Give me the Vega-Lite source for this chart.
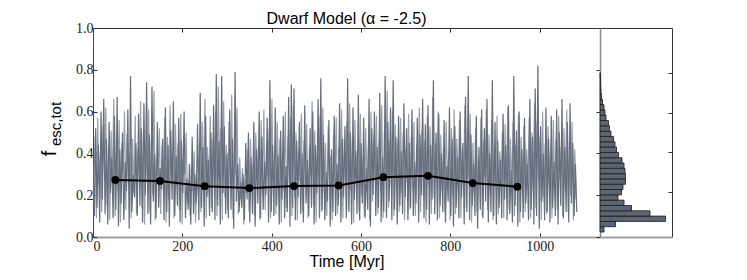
{
  "$schema": "https://vega.github.io/schema/vega-lite/v6.json",
  "padding": {"left": 38, "top": 10, "right": 5, "bottom": 5},
  "background": "white",
  "bounds": "flush",
  "spacing": 0,
  "config": {
    "view": {"stroke": "#333333", "strokeWidth": 1},
    "axis": {"grid": false, "labelFont": "Liberation Serif", "labelFontSize": 14, "labelColor": "#222222", "tickColor": "#333333", "titleFont": "Liberation Sans", "titleFontWeight": "normal", "titleColor": "#000000"},
    "title": {"font": "Liberation Sans", "fontSize": 16, "fontWeight": "normal", "color": "#000000"}
  },
  "datasets": {
    "series": [
      {"t":0,"f":0.35},{"t":3,"f":0.10},{"t":6,"f":0.52},{"t":9,"f":0.14},{"t":12,"f":0.44},{"t":15,"f":0.07},{"t":18,"f":0.60},{"t":21,"f":0.18},{"t":24,"f":0.66},{"t":27,"f":0.11},
      {"t":30,"f":0.47},{"t":33,"f":0.06},{"t":36,"f":0.55},{"t":39,"f":0.21},{"t":42,"f":0.38},{"t":45,"f":0.09},{"t":48,"f":0.58},{"t":51,"f":0.13},{"t":54,"f":0.67},{"t":57,"f":0.05},
      {"t":60,"f":0.42},{"t":63,"f":0.16},{"t":66,"f":0.50},{"t":69,"f":0.08},{"t":72,"f":0.36},{"t":75,"f":0.22},{"t":78,"f":0.61},{"t":81,"f":0.04},{"t":84,"f":0.77},{"t":87,"f":0.12},
      {"t":90,"f":0.30},{"t":93,"f":0.19},{"t":96,"f":0.45},{"t":99,"f":0.10},{"t":102,"f":0.59},{"t":105,"f":0.15},{"t":108,"f":0.52},{"t":111,"f":0.07},{"t":114,"f":0.64},{"t":117,"f":0.20},
      {"t":120,"f":0.74},{"t":123,"f":0.11},{"t":126,"f":0.49},{"t":129,"f":0.06},{"t":132,"f":0.72},{"t":135,"f":0.17},{"t":138,"f":0.40},{"t":141,"f":0.09},{"t":144,"f":0.55},{"t":147,"f":0.14},
      {"t":150,"f":0.33},{"t":153,"f":0.23},{"t":156,"f":0.47},{"t":159,"f":0.08},{"t":162,"f":0.62},{"t":165,"f":0.12},{"t":168,"f":0.44},{"t":171,"f":0.05},{"t":174,"f":0.51},{"t":177,"f":0.18},
      {"t":180,"f":0.65},{"t":183,"f":0.10},{"t":186,"f":0.39},{"t":189,"f":0.15},{"t":192,"f":0.57},{"t":195,"f":0.07},{"t":198,"f":0.46},{"t":201,"f":0.21},{"t":204,"f":0.60},{"t":207,"f":0.09},
      {"t":210,"f":0.28},{"t":213,"f":0.13},{"t":216,"f":0.35},{"t":219,"f":0.06},{"t":222,"f":0.48},{"t":225,"f":0.11},{"t":228,"f":0.30},{"t":231,"f":0.16},{"t":234,"f":0.54},{"t":237,"f":0.08},
      {"t":240,"f":0.69},{"t":243,"f":0.14},{"t":246,"f":0.43},{"t":249,"f":0.05},{"t":252,"f":0.58},{"t":255,"f":0.19},{"t":258,"f":0.37},{"t":261,"f":0.10},{"t":264,"f":0.50},{"t":267,"f":0.12},
      {"t":270,"f":0.63},{"t":273,"f":0.08},{"t":276,"f":0.78},{"t":279,"f":0.15},{"t":282,"f":0.46},{"t":285,"f":0.06},{"t":288,"f":0.77},{"t":291,"f":0.21},{"t":294,"f":0.53},{"t":297,"f":0.11},
      {"t":300,"f":0.40},{"t":303,"f":0.09},{"t":306,"f":0.61},{"t":309,"f":0.13},{"t":312,"f":0.47},{"t":315,"f":0.04},{"t":318,"f":0.79},{"t":321,"f":0.17},{"t":324,"f":0.35},{"t":327,"f":0.12},
      {"t":330,"f":0.26},{"t":333,"f":0.14},{"t":336,"f":0.30},{"t":339,"f":0.08},{"t":342,"f":0.45},{"t":345,"f":0.18},{"t":348,"f":0.50},{"t":351,"f":0.07},{"t":354,"f":0.38},{"t":357,"f":0.11},
      {"t":360,"f":0.55},{"t":363,"f":0.05},{"t":366,"f":0.42},{"t":369,"f":0.16},{"t":372,"f":0.60},{"t":375,"f":0.09},{"t":378,"f":0.48},{"t":381,"f":0.13},{"t":384,"f":0.36},{"t":387,"f":0.20},
      {"t":390,"f":0.57},{"t":393,"f":0.07},{"t":396,"f":0.75},{"t":399,"f":0.12},{"t":402,"f":0.44},{"t":405,"f":0.10},{"t":408,"f":0.62},{"t":411,"f":0.15},{"t":414,"f":0.39},{"t":417,"f":0.06},
      {"t":420,"f":0.51},{"t":423,"f":0.18},{"t":426,"f":0.58},{"t":429,"f":0.09},{"t":432,"f":0.34},{"t":435,"f":0.12},{"t":438,"f":0.67},{"t":441,"f":0.05},{"t":444,"f":0.73},{"t":447,"f":0.14},
      {"t":450,"f":0.71},{"t":453,"f":0.08},{"t":456,"f":0.46},{"t":459,"f":0.19},{"t":462,"f":0.55},{"t":465,"f":0.11},{"t":468,"f":0.40},{"t":471,"f":0.07},{"t":474,"f":0.63},{"t":477,"f":0.16},
      {"t":480,"f":0.37},{"t":483,"f":0.10},{"t":486,"f":0.52},{"t":489,"f":0.14},{"t":492,"f":0.60},{"t":495,"f":0.06},{"t":498,"f":0.44},{"t":501,"f":0.21},{"t":504,"f":0.66},{"t":507,"f":0.09},
      {"t":510,"f":0.76},{"t":513,"f":0.13},{"t":516,"f":0.49},{"t":519,"f":0.08},{"t":522,"f":0.31},{"t":525,"f":0.17},{"t":528,"f":0.56},{"t":531,"f":0.05},{"t":534,"f":0.42},{"t":537,"f":0.12},
      {"t":540,"f":0.58},{"t":543,"f":0.10},{"t":546,"f":0.35},{"t":549,"f":0.15},{"t":552,"f":0.64},{"t":555,"f":0.07},{"t":558,"f":0.47},{"t":561,"f":0.19},{"t":564,"f":0.53},{"t":567,"f":0.09},
      {"t":570,"f":0.76},{"t":573,"f":0.12},{"t":576,"f":0.50},{"t":579,"f":0.06},{"t":582,"f":0.62},{"t":585,"f":0.18},{"t":588,"f":0.41},{"t":591,"f":0.11},{"t":594,"f":0.68},{"t":597,"f":0.08},
      {"t":600,"f":0.45},{"t":603,"f":0.16},{"t":606,"f":0.57},{"t":609,"f":0.09},{"t":612,"f":0.33},{"t":615,"f":0.13},{"t":618,"f":0.66},{"t":621,"f":0.05},{"t":624,"f":0.52},{"t":627,"f":0.20},
      {"t":630,"f":0.60},{"t":633,"f":0.10},{"t":636,"f":0.43},{"t":639,"f":0.14},{"t":642,"f":0.69},{"t":645,"f":0.07},{"t":648,"f":0.38},{"t":651,"f":0.12},{"t":654,"f":0.77},{"t":657,"f":0.09},
      {"t":660,"f":0.55},{"t":663,"f":0.17},{"t":666,"f":0.62},{"t":669,"f":0.08},{"t":672,"f":0.75},{"t":675,"f":0.13},{"t":678,"f":0.48},{"t":681,"f":0.06},{"t":684,"f":0.58},{"t":687,"f":0.15},
      {"t":690,"f":0.41},{"t":693,"f":0.11},{"t":696,"f":0.64},{"t":699,"f":0.19},{"t":702,"f":0.52},{"t":705,"f":0.08},{"t":708,"f":0.45},{"t":711,"f":0.14},{"t":714,"f":0.61},{"t":717,"f":0.10},
      {"t":720,"f":0.36},{"t":723,"f":0.16},{"t":726,"f":0.57},{"t":729,"f":0.07},{"t":732,"f":0.49},{"t":735,"f":0.20},{"t":738,"f":0.66},{"t":741,"f":0.09},{"t":744,"f":0.54},{"t":747,"f":0.13},
      {"t":750,"f":0.63},{"t":753,"f":0.06},{"t":756,"f":0.44},{"t":759,"f":0.18},{"t":762,"f":0.75},{"t":765,"f":0.11},{"t":768,"f":0.50},{"t":771,"f":0.08},{"t":774,"f":0.59},{"t":777,"f":0.15},
      {"t":780,"f":0.40},{"t":783,"f":0.12},{"t":786,"f":0.56},{"t":789,"f":0.07},{"t":792,"f":0.34},{"t":795,"f":0.17},{"t":798,"f":0.62},{"t":801,"f":0.10},{"t":804,"f":0.47},{"t":807,"f":0.05},
      {"t":810,"f":0.53},{"t":813,"f":0.14},{"t":816,"f":0.38},{"t":819,"f":0.09},{"t":822,"f":0.60},{"t":825,"f":0.19},{"t":828,"f":0.45},{"t":831,"f":0.06},{"t":834,"f":0.67},{"t":837,"f":0.12},
      {"t":840,"f":0.77},{"t":843,"f":0.08},{"t":846,"f":0.49},{"t":849,"f":0.15},{"t":852,"f":0.35},{"t":855,"f":0.10},{"t":858,"f":0.58},{"t":861,"f":0.04},{"t":864,"f":0.43},{"t":867,"f":0.13},
      {"t":870,"f":0.61},{"t":873,"f":0.09},{"t":876,"f":0.52},{"t":879,"f":0.17},{"t":882,"f":0.66},{"t":885,"f":0.07},{"t":888,"f":0.40},{"t":891,"f":0.12},{"t":894,"f":0.75},{"t":897,"f":0.10},
      {"t":900,"f":0.55},{"t":903,"f":0.06},{"t":906,"f":0.46},{"t":909,"f":0.14},{"t":912,"f":0.37},{"t":915,"f":0.09},{"t":918,"f":0.59},{"t":921,"f":0.18},{"t":924,"f":0.44},{"t":927,"f":0.08},
      {"t":930,"f":0.63},{"t":933,"f":0.11},{"t":936,"f":0.32},{"t":939,"f":0.07},{"t":942,"f":0.77},{"t":945,"f":0.15},{"t":948,"f":0.51},{"t":951,"f":0.05},{"t":954,"f":0.60},{"t":957,"f":0.12},
      {"t":960,"f":0.42},{"t":963,"f":0.09},{"t":966,"f":0.57},{"t":969,"f":0.16},{"t":972,"f":0.35},{"t":975,"f":0.08},{"t":978,"f":0.66},{"t":981,"f":0.13},{"t":984,"f":0.48},{"t":987,"f":0.06},
      {"t":990,"f":0.71},{"t":993,"f":0.10},{"t":996,"f":0.82},{"t":999,"f":0.04},{"t":1002,"f":0.53},{"t":1005,"f":0.17},{"t":1008,"f":0.40},{"t":1011,"f":0.08},{"t":1014,"f":0.62},{"t":1017,"f":0.12},
      {"t":1020,"f":0.47},{"t":1023,"f":0.07},{"t":1026,"f":0.58},{"t":1029,"f":0.14},{"t":1032,"f":0.36},{"t":1035,"f":0.10},{"t":1038,"f":0.61},{"t":1041,"f":0.06},{"t":1044,"f":0.50},{"t":1047,"f":0.15},
      {"t":1050,"f":0.66},{"t":1053,"f":0.09},{"t":1056,"f":0.43},{"t":1059,"f":0.12},{"t":1062,"f":0.55},{"t":1065,"f":0.07},{"t":1068,"f":0.64},{"t":1071,"f":0.16},{"t":1074,"f":0.45},{"t":1077,"f":0.10},
      {"t":1080,"f":0.35},{"t":1083,"f":0.12}
    ],
    "series2": [
      {"t":1.5,"f":0.20},{"t":4.5,"f":0.48},{"t":7.5,"f":0.09},{"t":10.5,"f":0.57},{"t":13.5,"f":0.25},{"t":16.5,"f":0.41},{"t":19.5,"f":0.12},{"t":22.5,"f":0.53},{"t":25.5,"f":0.30},{"t":28.5,"f":0.62},
      {"t":31.5,"f":0.15},{"t":34.5,"f":0.44},{"t":37.5,"f":0.08},{"t":40.5,"f":0.51},{"t":43.5,"f":0.27},{"t":46.5,"f":0.66},{"t":49.5,"f":0.10},{"t":52.5,"f":0.39},{"t":55.5,"f":0.22},{"t":58.5,"f":0.56},
      {"t":61.5,"f":0.07},{"t":64.5,"f":0.45},{"t":67.5,"f":0.31},{"t":70.5,"f":0.60},{"t":73.5,"f":0.13},{"t":76.5,"f":0.49},{"t":79.5,"f":0.24},{"t":82.5,"f":0.40},{"t":85.5,"f":0.09},{"t":88.5,"f":0.47},
      {"t":91.5,"f":0.21},{"t":94.5,"f":0.58},{"t":97.5,"f":0.11},{"t":100.5,"f":0.42},{"t":103.5,"f":0.28},{"t":106.5,"f":0.65},{"t":109.5,"f":0.14},{"t":112.5,"f":0.50},{"t":115.5,"f":0.06},{"t":118.5,"f":0.43},
      {"t":121.5,"f":0.26},{"t":124.5,"f":0.61},{"t":127.5,"f":0.12},{"t":130.5,"f":0.46},{"t":133.5,"f":0.20},{"t":136.5,"f":0.70},{"t":139.5,"f":0.08},{"t":142.5,"f":0.38},{"t":145.5,"f":0.29},{"t":148.5,"f":0.52},
      {"t":151.5,"f":0.11},{"t":154.5,"f":0.44},{"t":157.5,"f":0.23},{"t":160.5,"f":0.57},{"t":163.5,"f":0.07},{"t":166.5,"f":0.48},{"t":169.5,"f":0.18},{"t":172.5,"f":0.63},{"t":175.5,"f":0.27},{"t":178.5,"f":0.41},
      {"t":181.5,"f":0.09},{"t":184.5,"f":0.54},{"t":187.5,"f":0.25},{"t":190.5,"f":0.45},{"t":193.5,"f":0.13},{"t":196.5,"f":0.59},{"t":199.5,"f":0.06},{"t":202.5,"f":0.37},{"t":205.5,"f":0.30},{"t":208.5,"f":0.50},
      {"t":211.5,"f":0.16},{"t":214.5,"f":0.27},{"t":217.5,"f":0.10},{"t":220.5,"f":0.33},{"t":223.5,"f":0.22},{"t":226.5,"f":0.41},{"t":229.5,"f":0.07},{"t":232.5,"f":0.29},{"t":235.5,"f":0.19},{"t":238.5,"f":0.46},
      {"t":241.5,"f":0.12},{"t":244.5,"f":0.55},{"t":247.5,"f":0.26},{"t":250.5,"f":0.66},{"t":253.5,"f":0.09},{"t":256.5,"f":0.43},{"t":259.5,"f":0.21},{"t":262.5,"f":0.58},{"t":265.5,"f":0.14},{"t":268.5,"f":0.47},
      {"t":271.5,"f":0.24},{"t":274.5,"f":0.60},{"t":277.5,"f":0.10},{"t":280.5,"f":0.72},{"t":283.5,"f":0.28},{"t":286.5,"f":0.52},{"t":289.5,"f":0.08},{"t":292.5,"f":0.65},{"t":295.5,"f":0.19},{"t":298.5,"f":0.44},
      {"t":301.5,"f":0.13},{"t":304.5,"f":0.55},{"t":307.5,"f":0.25},{"t":310.5,"f":0.68},{"t":313.5,"f":0.09},{"t":316.5,"f":0.49},{"t":319.5,"f":0.30},{"t":322.5,"f":0.62},{"t":325.5,"f":0.11},{"t":328.5,"f":0.38},
      {"t":331.5,"f":0.18},{"t":334.5,"f":0.33},{"t":337.5,"f":0.06},{"t":340.5,"f":0.28},{"t":343.5,"f":0.21},{"t":346.5,"f":0.42},{"t":349.5,"f":0.12},{"t":352.5,"f":0.47},{"t":355.5,"f":0.24},{"t":358.5,"f":0.35},
      {"t":361.5,"f":0.10},{"t":364.5,"f":0.50},{"t":367.5,"f":0.27},{"t":370.5,"f":0.44},{"t":373.5,"f":0.08},{"t":376.5,"f":0.56},{"t":379.5,"f":0.20},{"t":382.5,"f":0.61},{"t":385.5,"f":0.13},{"t":388.5,"f":0.45},
      {"t":391.5,"f":0.29},{"t":394.5,"f":0.52},{"t":397.5,"f":0.09},{"t":400.5,"f":0.66},{"t":403.5,"f":0.23},{"t":406.5,"f":0.41},{"t":409.5,"f":0.11},{"t":412.5,"f":0.55},{"t":415.5,"f":0.26},{"t":418.5,"f":0.47},
      {"t":421.5,"f":0.07},{"t":424.5,"f":0.39},{"t":427.5,"f":0.22},{"t":430.5,"f":0.60},{"t":433.5,"f":0.14},{"t":436.5,"f":0.48},{"t":439.5,"f":0.28},{"t":442.5,"f":0.57},{"t":445.5,"f":0.10},{"t":448.5,"f":0.63},
      {"t":451.5,"f":0.19},{"t":454.5,"f":0.50},{"t":457.5,"f":0.08},{"t":460.5,"f":0.42},{"t":463.5,"f":0.27},{"t":466.5,"f":0.59},{"t":469.5,"f":0.12},{"t":472.5,"f":0.46},{"t":475.5,"f":0.23},{"t":478.5,"f":0.54},
      {"t":481.5,"f":0.09},{"t":484.5,"f":0.43},{"t":487.5,"f":0.30},{"t":490.5,"f":0.65},{"t":493.5,"f":0.15},{"t":496.5,"f":0.51},{"t":499.5,"f":0.07},{"t":502.5,"f":0.40},{"t":505.5,"f":0.25},{"t":508.5,"f":0.58},
      {"t":511.5,"f":0.12},{"t":514.5,"f":0.62},{"t":517.5,"f":0.21},{"t":520.5,"f":0.45},{"t":523.5,"f":0.10},{"t":526.5,"f":0.53},{"t":529.5,"f":0.28},{"t":532.5,"f":0.39},{"t":535.5,"f":0.08},{"t":538.5,"f":0.49},
      {"t":541.5,"f":0.24},{"t":544.5,"f":0.57},{"t":547.5,"f":0.11},{"t":550.5,"f":0.43},{"t":553.5,"f":0.19},{"t":556.5,"f":0.61},{"t":559.5,"f":0.09},{"t":562.5,"f":0.47},{"t":565.5,"f":0.26},{"t":568.5,"f":0.55},
      {"t":571.5,"f":0.13},{"t":574.5,"f":0.64},{"t":577.5,"f":0.22},{"t":580.5,"f":0.48},{"t":583.5,"f":0.07},{"t":586.5,"f":0.56},{"t":589.5,"f":0.29},{"t":592.5,"f":0.42},{"t":595.5,"f":0.12},{"t":598.5,"f":0.59},
      {"t":601.5,"f":0.20},{"t":604.5,"f":0.38},{"t":607.5,"f":0.10},{"t":610.5,"f":0.52},{"t":613.5,"f":0.25},{"t":616.5,"f":0.44},{"t":619.5,"f":0.08},{"t":622.5,"f":0.60},{"t":625.5,"f":0.17},{"t":628.5,"f":0.49},
      {"t":631.5,"f":0.27},{"t":634.5,"f":0.58},{"t":637.5,"f":0.11},{"t":640.5,"f":0.46},{"t":643.5,"f":0.22},{"t":646.5,"f":0.63},{"t":649.5,"f":0.09},{"t":652.5,"f":0.51},{"t":655.5,"f":0.30},{"t":658.5,"f":0.70},
      {"t":661.5,"f":0.14},{"t":664.5,"f":0.45},{"t":667.5,"f":0.24},{"t":670.5,"f":0.61},{"t":673.5,"f":0.10},{"t":676.5,"f":0.54},{"t":679.5,"f":0.28},{"t":682.5,"f":0.47},{"t":685.5,"f":0.12},{"t":688.5,"f":0.57},
      {"t":691.5,"f":0.21},{"t":694.5,"f":0.50},{"t":697.5,"f":0.08},{"t":700.5,"f":0.42},{"t":703.5,"f":0.26},{"t":706.5,"f":0.59},{"t":709.5,"f":0.13},{"t":712.5,"f":0.48},{"t":715.5,"f":0.23},{"t":718.5,"f":0.55},
      {"t":721.5,"f":0.10},{"t":724.5,"f":0.44},{"t":727.5,"f":0.29},{"t":730.5,"f":0.62},{"t":733.5,"f":0.12},{"t":736.5,"f":0.51},{"t":739.5,"f":0.20},{"t":742.5,"f":0.46},{"t":745.5,"f":0.07},{"t":748.5,"f":0.58},
      {"t":751.5,"f":0.25},{"t":754.5,"f":0.53},{"t":757.5,"f":0.11},{"t":760.5,"f":0.67},{"t":763.5,"f":0.19},{"t":766.5,"f":0.45},{"t":769.5,"f":0.28},{"t":772.5,"f":0.60},{"t":775.5,"f":0.09},{"t":778.5,"f":0.49},
      {"t":781.5,"f":0.22},{"t":784.5,"f":0.43},{"t":787.5,"f":0.12},{"t":790.5,"f":0.55},{"t":793.5,"f":0.27},{"t":796.5,"f":0.40},{"t":799.5,"f":0.08},{"t":802.5,"f":0.52},{"t":805.5,"f":0.20},{"t":808.5,"f":0.61},
      {"t":811.5,"f":0.11},{"t":814.5,"f":0.47},{"t":817.5,"f":0.26},{"t":820.5,"f":0.56},{"t":823.5,"f":0.09},{"t":826.5,"f":0.42},{"t":829.5,"f":0.23},{"t":832.5,"f":0.63},{"t":835.5,"f":0.14},{"t":838.5,"f":0.50},
      {"t":841.5,"f":0.28},{"t":844.5,"f":0.59},{"t":847.5,"f":0.07},{"t":850.5,"f":0.45},{"t":853.5,"f":0.21},{"t":856.5,"f":0.52},{"t":859.5,"f":0.12},{"t":862.5,"f":0.38},{"t":865.5,"f":0.25},{"t":868.5,"f":0.57},
      {"t":871.5,"f":0.10},{"t":874.5,"f":0.46},{"t":877.5,"f":0.29},{"t":880.5,"f":0.61},{"t":883.5,"f":0.13},{"t":886.5,"f":0.49},{"t":889.5,"f":0.20},{"t":892.5,"f":0.56},{"t":895.5,"f":0.08},{"t":898.5,"f":0.44},
      {"t":901.5,"f":0.24},{"t":904.5,"f":0.58},{"t":907.5,"f":0.11},{"t":910.5,"f":0.41},{"t":913.5,"f":0.27},{"t":916.5,"f":0.50},{"t":919.5,"f":0.09},{"t":922.5,"f":0.54},{"t":925.5,"f":0.18},{"t":928.5,"f":0.62},
      {"t":931.5,"f":0.13},{"t":934.5,"f":0.47},{"t":937.5,"f":0.22},{"t":940.5,"f":0.55},{"t":943.5,"f":0.10},{"t":946.5,"f":0.44},{"t":949.5,"f":0.26},{"t":952.5,"f":0.59},{"t":955.5,"f":0.07},{"t":958.5,"f":0.48},
      {"t":961.5,"f":0.21},{"t":964.5,"f":0.53},{"t":967.5,"f":0.12},{"t":970.5,"f":0.42},{"t":973.5,"f":0.28},{"t":976.5,"f":0.57},{"t":979.5,"f":0.09},{"t":982.5,"f":0.50},{"t":985.5,"f":0.23},{"t":988.5,"f":0.64},
      {"t":991.5,"f":0.14},{"t":994.5,"f":0.55},{"t":997.5,"f":0.26},{"t":1000.5,"f":0.48},{"t":1003.5,"f":0.08},{"t":1006.5,"f":0.60},{"t":1009.5,"f":0.19},{"t":1012.5,"f":0.45},{"t":1015.5,"f":0.11},{"t":1018.5,"f":0.53},
      {"t":1021.5,"f":0.25},{"t":1024.5,"f":0.41},{"t":1027.5,"f":0.09},{"t":1030.5,"f":0.56},{"t":1033.5,"f":0.22},{"t":1036.5,"f":0.47},{"t":1039.5,"f":0.13},{"t":1042.5,"f":0.58},{"t":1045.5,"f":0.27},{"t":1048.5,"f":0.43},
      {"t":1051.5,"f":0.10},{"t":1054.5,"f":0.52},{"t":1057.5,"f":0.24},{"t":1060.5,"f":0.61},{"t":1063.5,"f":0.12},{"t":1066.5,"f":0.46},{"t":1069.5,"f":0.20},{"t":1072.5,"f":0.55},{"t":1075.5,"f":0.08},{"t":1078.5,"f":0.42},
      {"t":1081.5,"f":0.18}
    ],
    "means": [
      {"t":50,"m":0.273},{"t":150,"m":0.268},{"t":250,"m":0.243},{"t":350,"m":0.234},{"t":450,"m":0.244},
      {"t":550,"m":0.247},{"t":650,"m":0.286},{"t":750,"m":0.293},{"t":850,"m":0.258},{"t":950,"m":0.241}
    ],
    "hist": [
      {"lo":0,"hi":0.0267,"n":8},{"lo":0.0267,"hi":0.0533,"n":31},{"lo":0.0533,"hi":0.08,"n":131},{"lo":0.08,"hi":0.1067,"n":100},
      {"lo":0.1067,"hi":0.1333,"n":63},{"lo":0.1333,"hi":0.16,"n":48},{"lo":0.16,"hi":0.1867,"n":36},{"lo":0.1867,"hi":0.2133,"n":43},
      {"lo":0.2133,"hi":0.24,"n":46},{"lo":0.24,"hi":0.2667,"n":51},{"lo":0.2667,"hi":0.2933,"n":51},{"lo":0.2933,"hi":0.32,"n":50},
      {"lo":0.32,"hi":0.3467,"n":48},{"lo":0.3467,"hi":0.3733,"n":44},{"lo":0.3733,"hi":0.4,"n":37},{"lo":0.4,"hi":0.4267,"n":33},
      {"lo":0.4267,"hi":0.4533,"n":30},{"lo":0.4533,"hi":0.48,"n":27},{"lo":0.48,"hi":0.5067,"n":22},{"lo":0.5067,"hi":0.5333,"n":19},
      {"lo":0.5333,"hi":0.56,"n":17},{"lo":0.56,"hi":0.5867,"n":12},{"lo":0.5867,"hi":0.6133,"n":10},{"lo":0.6133,"hi":0.64,"n":8},
      {"lo":0.64,"hi":0.6667,"n":5},{"lo":0.6667,"hi":0.6933,"n":3},{"lo":0.6933,"hi":0.72,"n":2},{"lo":0.72,"hi":0.7467,"n":1.4},
      {"lo":0.7467,"hi":0.7733,"n":1},{"lo":0.7733,"hi":0.8,"n":0.6}
    ],
    "sub": [{"label": "esc,tot"}]
  },
  "hconcat": [
    {
      "width": 507,
      "height": 209,
      "title": {"text": "Dwarf Model (α = -2.5)", "anchor": "middle", "frame": "group", "offset": -6},
      "resolve": {"axis": {"x": "independent", "y": "independent"}},
      "layer": [
        {
          "data": {"name": "series2"},
          "mark": {"type": "line", "color": "#9aa0ab", "strokeWidth": 1.2, "clip": true},
          "encoding": {
            "x": {"field": "t", "type": "quantitative", "scale": {"domain": [0, 1135], "nice": false},
              "axis": {"orient": "bottom", "values": [0, 200, 400, 600, 800, 1000], "title": "Time [Myr]", "titleFontSize": 16, "titlePadding": 0, "tickSize": -4, "labelPadding": 6, "domainColor": "#a0a0a0", "domainWidth": 2, "format": "d"}},
            "y": {"field": "f", "type": "quantitative", "scale": {"domain": [0, 1], "nice": false},
              "axis": {"orient": "left", "values": [0, 0.2, 0.4, 0.6, 0.8, 1.0], "format": ".1f", "title": "f", "titleFontSize": 20, "titleAngle": 270, "titleBaseline": "alphabetic", "titleAlign": "center", "titleX": -38, "titleY": 125, "tickSize": -4, "labelPadding": 4, "domainColor": "#444444", "minExtent": 50, "maxExtent": 50}}
          }
        },
        {
          "data": {"name": "series"},
          "mark": {"type": "line", "color": "#666d7d", "strokeWidth": 1.2, "clip": true},
          "encoding": {
            "x": {"field": "t", "type": "quantitative",
              "axis": {"orient": "top", "values": [0, 200, 400, 600, 800, 1000], "labels": false, "title": null, "tickSize": -4, "domain": false}},
            "y": {"field": "f", "type": "quantitative",
              "axis": {"orient": "right", "values": [0, 0.2, 0.4, 0.6, 0.8, 1.0], "labels": false, "title": null, "tickSize": -4, "domain": false}}
          }
        },
        {
          "data": {"name": "means"},
          "mark": {"type": "line", "color": "#000000", "strokeWidth": 2},
          "encoding": {
            "x": {"field": "t", "type": "quantitative", "axis": null},
            "y": {"field": "m", "type": "quantitative", "axis": null}
          }
        },
        {
          "data": {"name": "means"},
          "mark": {"type": "point", "filled": true, "color": "#000000", "size": 60, "opacity": 1},
          "encoding": {
            "x": {"field": "t", "type": "quantitative", "axis": null},
            "y": {"field": "m", "type": "quantitative", "axis": null}
          }
        },
        {
          "data": {"name": "sub"},
          "mark": {"type": "text", "angle": 270, "align": "left", "baseline": "alphabetic", "font": "Liberation Sans", "fontSize": 15, "color": "#000000", "clip": false},
          "encoding": {
            "x": {"datum": -72, "axis": null},
            "y": {"datum": 0.435, "axis": null},
            "text": {"field": "label"}
          }
        }
      ]
    },
    {
      "width": 72,
      "height": 209,
      "data": {"name": "hist"},
      "resolve": {"axis": {"y": "independent"}},
      "layer": [
        {
          "mark": {"type": "bar", "orient": "horizontal", "color": "#5d6474", "stroke": "#1a1a1a", "strokeWidth": 0.8},
          "encoding": {
            "y": {"field": "lo", "type": "quantitative", "scale": {"domain": [0, 1], "nice": false},
              "axis": {"orient": "left", "labels": false, "ticks": false, "title": null, "domainColor": "#888888", "domainWidth": 1.5}},
            "y2": {"field": "hi"},
            "x": {"field": "n", "type": "quantitative", "scale": {"domain": [0, 144], "nice": false},
              "axis": {"labels": false, "ticks": false, "title": null, "domainColor": "#a0a0a0", "domainWidth": 2}}
          }
        },
        {
          "mark": {"type": "bar", "orient": "horizontal", "opacity": 0},
          "encoding": {
            "y": {"field": "lo", "type": "quantitative",
              "axis": {"orient": "right", "values": [0.2, 0.4, 0.6, 0.8], "labels": false, "title": null, "tickSize": -4, "domain": false}},
            "y2": {"field": "hi"},
            "x": {"field": "n", "type": "quantitative"}
          }
        }
      ]
    }
  ]
}
